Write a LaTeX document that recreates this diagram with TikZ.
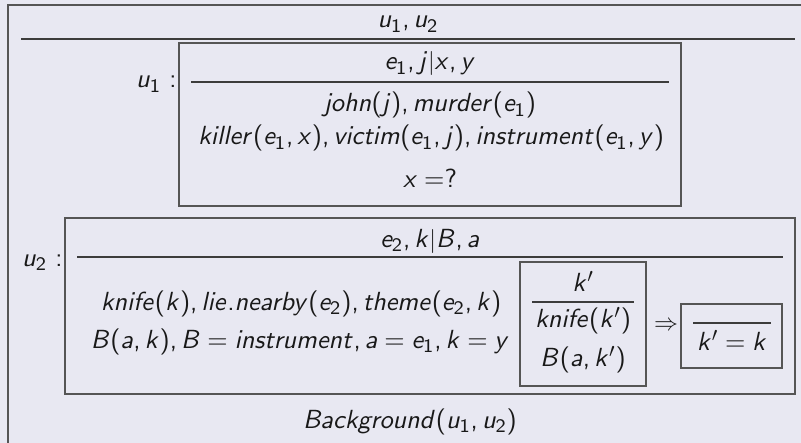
\documentclass[tikz,border=0pt]{standalone}
\DeclareFontFamily{OT1}{cmss}{\hyphenchar\font=-1}
\DeclareFontShape{OT1}{cmss}{m}{n}{<-10>cmss8 <10->cmss10}{}
\DeclareFontShape{OT1}{cmss}{m}{sl}{<-10>cmssi8 <10->cmssi10}{}
\DeclareSymbolFont{operators}{OT1}{cmss}{m}{n}
\DeclareSymbolFont{letters}{OT1}{cmss}{m}{sl}
\DeclareMathSizes{13.1}{13.1}{9.57}{7.17}
\mathcode`\,="602C
\mathcode`\.="002E
\definecolor{bg}{RGB}{232,232,242}
\definecolor{ink}{RGB}{25,25,25}
\definecolor{frame}{RGB}{85,85,85}
\begin{document}
\begin{tikzpicture}[x=0.5pt,y=-0.5pt,
  txt/.style={anchor=base,inner sep=0pt,text=ink,font=\fontsize{13.1}{16}\selectfont},
  boxline/.style={draw=frame,line width=0.8pt},
  rulel/.style={draw=ink!85,line width=0.8pt}]
\path[use as bounding box,fill=bg] (0,0) rectangle (801,443);
% outer frame
\draw[boxline] (8,460) -- (8,5) -- (820,5);
\node[txt] (top) at (408,28) {$u_1, u_2$};
\draw[rulel] (21,39) -- (795,39);
% u1
\node[txt,anchor=base east] (l1) at (177,88) {$u_1$ \textsf{:}};
\draw[boxline] (179,43) rectangle (681,206);
\node[txt] (u1h) at (430,70) {$e_1, j|x, y$};
\draw[rulel] (191,82) -- (669,82);
\node[txt] (u1a) at (430,112) {$john(j), murder(e_1)$};
\node[txt] (u1b) at (431,145) {$killer(e_1, x), victim(e_1, j), instrument(e_1, y)$};
\node[txt] (u1c) at (430,187) {$x =?$};
% u2
\node[txt,anchor=base east] (l2) at (63,266) {$u_2$ \textsf{:}};
\draw[boxline] (65,218) rectangle (795,394);
\node[txt] (u2h) at (430,247) {$e_2, k|B, a$};
\draw[rulel] (77,257) -- (783,257);
\node[txt] (u2a) at (301,310) {$knife(k), lie.nearby(e_2), theme(e_2, k)$};
\node[txt] (u2b) at (300,348) {$B(a, k), B = instrument, a = e_1, k = y$};
\draw[boxline] (520,262) rectangle (646,386);
\node[txt] (kp) at (583,291) {$k'$};
\draw[rulel] (532,302) -- (634,302);
\node[txt] (kpa) at (583,327) {$knife(k')$};
\node[txt] (kpb) at (583,366) {$B(a, k')$};
\node[txt] (imp) at (666,330) {$\Rightarrow$};
\draw[boxline] (681,304) rectangle (782,368);
\draw[rulel] (693,323) -- (771,323);
\node[txt] (eq) at (732,350) {$k' = k$};
\node[txt] (bgr) at (410,428) {$Background(u_1, u_2)$};
\end{tikzpicture}
\end{document}
